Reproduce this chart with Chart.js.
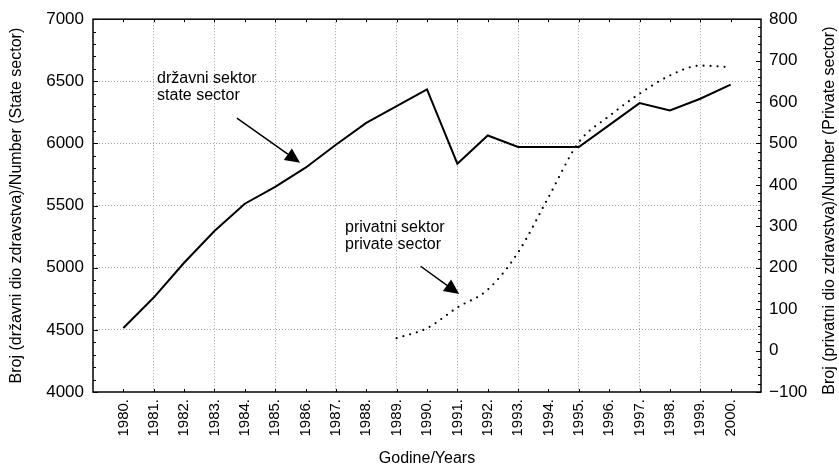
<!DOCTYPE html>
<html>
<head>
<meta charset="utf-8">
<script src="https://cdn.jsdelivr.net/npm/chart.js@4"></script>
<style>
  html, body { margin: 0; padding: 0; background: #fff; }
  #wrap { width: 839px; height: 466px; }
</style>
</head>
<body>
<div id="wrap"><canvas id="chart" width="839" height="466"></canvas></div>
<script>
// data
const years = ['1980.', '1981.', '1982.', '1983.', '1984.', '1985.', '1986.', '1987.', '1988.', '1989.', '1990.',
  '1991.', '1992.', '1993.', '1994.', '1995.', '1996.', '1997.', '1998.', '1999.', '2000.'];
const stateSector = [4515, 4760, 5040, 5295, 5515, 5650, 5805, 5990, 6165, 6300, 6435,
  5837, 6064, 5972, 5972, 5972, 6148, 6325, 6265, 6360, 6474];
const privateSector = [null, null, null, null, null, null, null, null, null, 30, 54,
  104, 147, 237, 370, 503, 566, 620, 664, 688, 684];
const leftTicks = [4000, 7000, 500];   // min, max, step
const rightTicks = [-100, 800, 100];

const FONT = "'Liberation Sans', Arial, Helvetica, sans-serif";
const rightTitle = 'Broj (privatni dio zdravstva)/Number (Private sector)';

// one empty slot each side so the frame sits a full year away from 1980 and 2000
const labels = [''].concat(years, ['']);
const pad = arr => [null].concat(arr, [null]);

// notes: x in category index, y in left axis units
const notes = [
  { lines: ['državni sektor', 'state sector'], x: 2.11, y: 6486, from: [4.74, 6204], to: [6.82, 5844] },
  { lines: ['privatni sektor', 'private sector'], x: 8.3, y: 5286, from: [10.79, 5012], to: [12.06, 4788] }
];

const framePlugin = {
  id: 'frame',
  afterDatasetsDraw(chart) {
    const { ctx, chartArea: a, scales } = chart;
    ctx.save();
    ctx.strokeStyle = '#000';
    ctx.lineWidth = 1;
    ctx.beginPath();
    for (let v = leftTicks[0]; v <= leftTicks[1]; v += 100) {
      const y = Math.round(scales.y.getPixelForValue(v)) + 0.5;
      ctx.moveTo(a.left, y); ctx.lineTo(a.left + (v % 500 === 0 ? 5 : 3), y);
    }
    for (let v = rightTicks[0]; v <= rightTicks[1]; v += 20) {
      const y = Math.round(scales.y2.getPixelForValue(v)) + 0.5;
      ctx.moveTo(a.right, y); ctx.lineTo(a.right - (v % 100 === 0 ? 5 : 3), y);
    }
    for (let i = 1; i <= years.length; i++) {
      const x = Math.round(scales.x.getPixelForValue(i)) + 0.5;
      ctx.moveTo(x, a.top); ctx.lineTo(x, a.top + 3);
      ctx.moveTo(x, a.bottom); ctx.lineTo(x, a.bottom - 3);
    }
    ctx.stroke();

    ctx.lineWidth = 1.5;
    ctx.strokeRect(a.left, a.top, a.right - a.left, a.bottom - a.top);

    ctx.fillStyle = '#000';
    ctx.font = '16px ' + FONT;

    // right axis title reads bottom to top, like the left one
    ctx.save();
    ctx.translate(chart.width - 9, (a.top + a.bottom) / 2 + 5);
    ctx.rotate(-Math.PI / 2);
    ctx.textAlign = 'center';
    ctx.textBaseline = 'middle';
    ctx.fillText(rightTitle, 0, 0);
    ctx.restore();

    // annotations with arrows
    ctx.textAlign = 'left';
    ctx.textBaseline = 'alphabetic';
    notes.forEach(n => {
      const tx = scales.x.getPixelForValue(n.x);
      const ty = scales.y.getPixelForValue(n.y);
      n.lines.forEach((t, i) => ctx.fillText(t, tx, ty + i * 17));
      const x1 = scales.x.getPixelForValue(n.from[0]), y1 = scales.y.getPixelForValue(n.from[1]);
      const x2 = scales.x.getPixelForValue(n.to[0]), y2 = scales.y.getPixelForValue(n.to[1]);
      const ang = Math.atan2(y2 - y1, x2 - x1);
      const hl = 15, hw = 7;
      const bx = x2 - hl * Math.cos(ang), by = y2 - hl * Math.sin(ang);
      ctx.lineWidth = 1.5;
      ctx.beginPath();
      ctx.moveTo(x1, y1); ctx.lineTo(bx, by);
      ctx.stroke();
      ctx.beginPath();
      ctx.moveTo(x2, y2);
      ctx.lineTo(bx + hw * Math.sin(ang), by - hw * Math.cos(ang));
      ctx.lineTo(bx - hw * Math.sin(ang), by + hw * Math.cos(ang));
      ctx.closePath();
      ctx.fill();
    });
    ctx.restore();
  }
};

const lastIdx = labels.length - 1;

new Chart(document.getElementById('chart'), {
  type: 'line',
  data: {
    labels: labels,
    datasets: [
      {
        label: 'državni sektor',
        data: pad(stateSector),
        yAxisID: 'y',
        borderColor: '#000',
        borderWidth: 2,
        pointRadius: 0,
        tension: 0,
        fill: false
      },
      {
        label: 'privatni sektor',
        data: pad(privateSector),
        yAxisID: 'y2',
        borderColor: '#000',
        borderWidth: 2.2,
        borderDash: [0, 7],
        borderCapStyle: 'round',
        cubicInterpolationMode: 'monotone',
        pointRadius: 0,
        fill: false
      }
    ]
  },
  options: {
    responsive: false,
    animation: false,
    layout: { padding: { top: 17, left: 0, right: 0, bottom: 0 } },
    plugins: {
      legend: { display: false },
      tooltip: { enabled: false }
    },
    scales: {
      x: {
        offset: false,
        grid: {
          drawTicks: false,
          lineWidth: 1,
          color: c => (c.index > 0 && c.index < lastIdx && c.index % 2 === 0) ? '#a0a0a0' : 'rgba(0,0,0,0)'
        },
        border: { display: false, dash: [1, 2] },
        ticks: {
          autoSkip: false,
          minRotation: 90,
          maxRotation: 90,
          padding: 7,
          color: '#000',
          font: { family: FONT, size: 15 }
        },
        title: {
          display: true,
          text: 'Godine/Years',
          color: '#000',
          padding: 0,
          font: { family: FONT, size: 16, lineHeight: 0.875 }
        },
        afterFit: s => { s.height = 74; }
      },
      y: {
        position: 'left',
        min: leftTicks[0],
        max: leftTicks[1],
        grid: {
          drawTicks: false,
          lineWidth: 1,
          color: c => (c.tick.value > leftTicks[0] && c.tick.value < leftTicks[1]) ? '#a0a0a0' : 'rgba(0,0,0,0)'
        },
        border: { display: false, dash: [1, 2] },
        ticks: {
          stepSize: leftTicks[2],
          padding: 9,
          color: '#000',
          font: { family: FONT, size: 17 },
          callback: v => String(v)
        },
        title: {
          display: true,
          text: 'Broj (državni dio zdravstva)/Number (State sector)',
          color: '#000',
          padding: { top: 7, bottom: 0 },
          font: { family: FONT, size: 16 }
        },
        afterFit: s => { s.width = 93; }
      },
      y2: {
        position: 'right',
        min: rightTicks[0],
        max: rightTicks[1],
        grid: { display: false, drawTicks: false },
        border: { display: false },
        ticks: {
          stepSize: rightTicks[2],
          padding: 8,
          color: '#000',
          font: { family: FONT, size: 17 },
          callback: v => String(v).replace('-', '\u2212')
        },
        afterFit: s => { s.width = 78; }
      }
    }
  },
  plugins: [framePlugin]
});
</script>
</body>
</html>
